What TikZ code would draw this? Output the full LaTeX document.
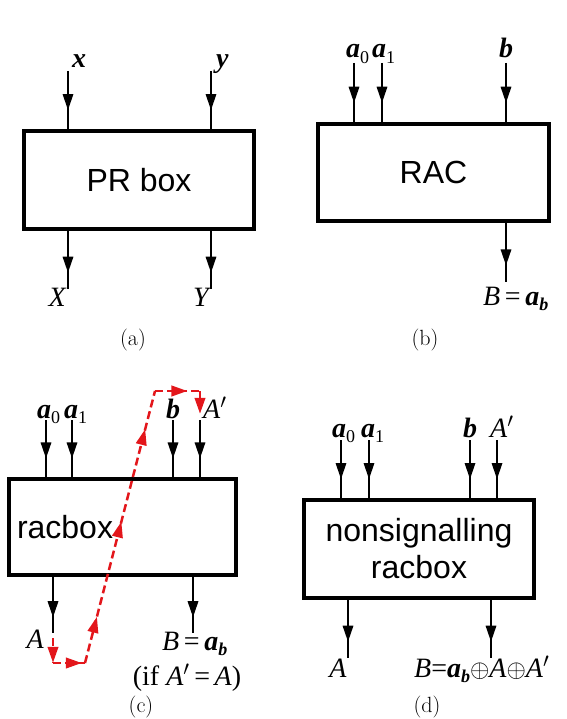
\documentclass[tikz,border=0pt]{standalone}
\usepackage{fontspec}
\newfontfamily\tms{Liberation Serif}
\newfontfamily\arl{Liberation Sans}
\usetikzlibrary{positioning,arrows.meta,decorations.markings}
\definecolor{pathred}{HTML}{E3161B}
\newcommand{\lv}[1]{{\bfseries\itshape #1}}
\newcommand{\uv}[1]{{\itshape #1}}
\newcommand{\idx}[1]{\raisebox{-0.18em}{\fontsize{18}{18}\selectfont #1}}
\newcommand{\pr}{$^\prime$}

\begin{document}
\begin{tikzpicture}[x=1pt,y=-1pt,
    blk/.style={draw,line width=3.4pt,inner sep=8pt,font=\arl\fontsize{32}{37}\selectfont},
    tipat/.style={postaction={decorate,decoration={markings,mark=at position #1 with {\arrow{Triangle[width=10.5pt,length=16pt]}}}}},
    wirein/.style={line width=1.6pt,tipat=0.67},
    wireout/.style={line width=1.6pt,tipat=0.72},
    lbl/.style={font=\tms\fontsize{28}{31}\selectfont,inner sep=0pt},
    capt/.style={font=\fontsize{22}{24}\selectfont,inner sep=0pt},
    redway/.style={draw=pathred,pathred,line width=2.5pt,dash pattern=on 8pt off 4pt}]
  \useasboundingbox (0,0) rectangle (566,719);

  % (a) PR box
  \node[blk,minimum width=230pt,minimum height=98pt] (prbox) at (139,180) {PR box};
  \coordinate (xin) at (68,71);   \coordinate (yin) at (211,71);
  \coordinate (Xout) at (68,289); \coordinate (Yout) at (211,289);
  \draw[wirein] (xin) -- (xin |- prbox.north);
  \draw[wirein] (yin) -- (yin |- prbox.north);
  \draw[wireout] (Xout |- prbox.south) -- (Xout);
  \draw[wireout] (Yout |- prbox.south) -- (Yout);
  \node[lbl,anchor=base west] (xlbl) at (72,68) {\lv{x}};
  \node[lbl,anchor=base west] (ylbl) at (216,68) {\lv{y}};
  \node[lbl,anchor=base east] (Xlbl) at (66,306) {\uv{X}};
  \node[lbl,anchor=base east] (Ylbl) at (209,306) {\uv{Y}};
  \node[capt] (capa) at (133,340) {(a)};

  % (b) RAC
  \node[blk,minimum width=231pt,minimum height=97pt] (rac) at (433.5,172.5) {RAC};
  \coordinate (a0b) at (354,63); \coordinate (a1b) at (382,63); \coordinate (bb) at (506,63);
  \coordinate (Bbout) at (506,282);
  \foreach \c in {a0b,a1b,bb} \draw[wirein] (\c) -- (\c |- rac.north);
  \draw[wireout] (Bbout |- rac.south) -- (Bbout);
  \node[lbl,anchor=base west] (a0blbl) at (346,58) {\lv{a}\idx{0}};
  \node[lbl,anchor=base west] (a1blbl) at (372,58) {\lv{a}\idx{1}};
  \node[lbl,anchor=base] (bblbl) at (506,58) {\lv{b}};
  \node[lbl,anchor=base west] (Bblbl) at (483,305) {\uv{B}\,=\,\lv{a}\idx{\lv{b}}};
  \node[capt] (capb) at (425,340) {(b)};

  % (c) racbox
  \node[blk,text width=211pt,align=left,minimum height=96pt] (racc) at (122.5,527) {racbox};
  \coordinate (a0c) at (46,420); \coordinate (a1c) at (72,420);
  \coordinate (bc) at (173,420); \coordinate (Apc) at (200,420);
  \coordinate (Acout) at (53,633); \coordinate (Bcout) at (193,633);
  \foreach \c in {a0c,a1c,bc,Apc} \draw[wirein] (\c) -- (\c |- racc.north);
  \draw[wireout] (Acout |- racc.south) -- (Acout);
  \draw[wireout] (Bcout |- racc.south) -- (Bcout);
  \node[lbl,anchor=base west] (a0clbl) at (37,418) {\lv{a}\idx{0}};
  \node[lbl,anchor=base west] (a1clbl) at (64,418) {\lv{a}\idx{1}};
  \node[lbl,anchor=base] (bclbl) at (173,418) {\lv{b}};
  \node[lbl,anchor=base west] (Apclbl) at (203,418) {\uv{A}\pr};
  \node[lbl,anchor=base east] (Aclbl) at (44,648) {\uv{A}};
  \node[lbl,anchor=base west] (Bclbl) at (162,650) {\uv{B}\,=\,\lv{a}\idx{\lv{b}}};
  \node[lbl,anchor=base] (ifclbl) at (187,685) {(if \uv{A}\pr\,=\,\uv{A})};
  \node[capt] (capc) at (141,707) {(c)};
  % red route
  \coordinate (r0) at (53,638); \coordinate (r1) at (53,663);
  \coordinate (r2) at (85,663); \coordinate (r3) at (155,391);
  \coordinate (r4) at (200,391); \coordinate (r5) at (200,414);
  \draw[redway,tipat=0.99] (r0) -- (r1);
  \draw[redway,tipat=0.9] (r1) -- (r2);
  \draw[redway,tipat=0.17,tipat=0.52,tipat=0.86] (r2) -- (r3);
  \draw[redway,tipat=0.72] (r3) -- (r4);
  \draw[redway,tipat=0.99] (r4) -- (r5);

  % (d) nonsignalling racbox
  \node[blk,align=center,minimum width=230pt,minimum height=98pt] (nsbox) at (419,549) {nonsignalling\\racbox};
  \coordinate (a0d) at (341,440); \coordinate (a1d) at (369,440);
  \coordinate (bd) at (470,440); \coordinate (Apd) at (497,440);
  \coordinate (Adout) at (348,658); \coordinate (Bdout) at (491,658);
  \foreach \c in {a0d,a1d,bd,Apd} \draw[wirein] (\c) -- (\c |- nsbox.north);
  \draw[wireout] (Adout |- nsbox.south) -- (Adout);
  \draw[wireout] (Bdout |- nsbox.south) -- (Bdout);
  \node[lbl,anchor=base west] (a0dlbl) at (332,437) {\lv{a}\idx{0}};
  \node[lbl,anchor=base west] (a1dlbl) at (361,437) {\lv{a}\idx{1}};
  \node[lbl,anchor=base] (bdlbl) at (470,437) {\lv{b}};
  \node[lbl,anchor=base west] (Apdlbl) at (490,437) {\uv{A}\pr};
  \node[lbl,anchor=base] (Adlbl) at (338,677) {\uv{A}};
  \node[lbl,anchor=base west] (Bdlbl) at (414,677) {\uv{B}=\lv{a}\idx{\lv{b}}$\oplus$\uv{A}$\oplus$\uv{A}\pr};
  \node[capt] (capd) at (427,707) {(d)};
\end{tikzpicture}
\end{document}
